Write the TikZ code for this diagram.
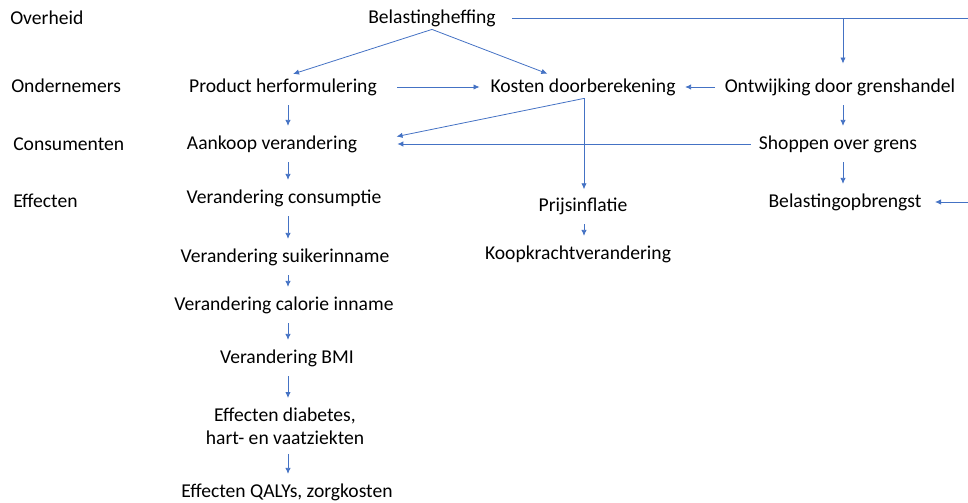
\documentclass[tikz,border=0pt]{standalone}
\usepackage{fontspec}
\setmainfont{Carlito}
\definecolor{lijnblauw}{RGB}{68,114,196}
\usetikzlibrary{arrows.meta}
\begin{document}
\fontsize{14.7}{17.25}\selectfont
\begin{tikzpicture}
			[x=0.75pt,y=-0.75pt,
			lbl/.style={anchor=west,inner sep=0pt},
			item/.style={inner sep=2pt,align=center},
			pijl/.style={draw=lijnblauw,line width=0.6pt,shorten <=5pt,shorten >=5pt},
			>={Latex[length=4.5pt,width=4pt]}]
			\useasboundingbox(0,0)rectangle(968,503);
			% rijen
			\node[lbl,name=overheid]at(10,18){Overheid};
			\node[lbl,name=ondernemers]at(11,86){Ondernemers};
			\node[lbl,name=consumenten]at(13,144){Consumenten};
			\node[lbl,name=effecten]at(13,201){Effecten};
			% knopen
			\node[item,name=heffing]at(432,18){Belastingheffing};
			\node[item,name=herform]at(283,87){Product herformulering};
			\node[item,name=kosten]at(583,87){Kosten doorberekening};
			\node[item,name=ontwijk]at(840,87){Ontwijking door grenshandel};
			\node[item,name=aankoop]at(272,144){Aankoop verandering};
			\node[item,name=shoppen]at(838,144){Shoppen over grens};
			\node[item,name=consumptie]at(284,198){Verandering consumptie};
			\node[item,name=prijs]at(583,206){Prijsinflatie};
			\node[item,name=opbrengst]at(845,202){Belastingopbrengst};
			\node[item,name=suiker]at(285,257){Verandering suikerinname};
			\node[item,name=koop]at(578,254){Koopkrachtverandering};
			\node[item,name=calorie]at(284,305){Verandering calorie inname};
			\node[item,name=bmi]at(287,358){Verandering BMI};
			\node[item,name=diabetes]at(285,426){Effecten diabetes,\\hart- en vaatziekten};
			\node[item,name=qaly]at(287,492){Effecten QALYs, zorgkosten};
			\coordinate(links)at(288,0);
			\coordinate(midden)at(584,0);
			\coordinate(rechts)at(843,0);
			\coordinate(rand)at(968,18);
			\coordinate(rand2)at(968,202);
			% verbindingen
			\draw[pijl,shorten <=10pt,shorten >=0pt](heffing.east)--(rand);
			\draw[->,pijl,shorten <=0pt,shorten >=9pt](heffing.east-|rechts)--(ontwijk.north-|rechts);
			\draw[->,pijl,shorten <=0pt,shorten >=4pt](heffing.south)--(herform.north-|links);
			\draw[->,pijl,shorten <=0pt,shorten >=4pt](heffing.south)--([xshift=-23pt]kosten.north);
			\draw[->,pijl,shorten <=13pt,shorten >=6pt](herform)--(kosten);
			\draw[->,pijl](ontwijk)--(kosten);
			\draw[->,pijl,shorten <=0pt,shorten >=28pt](kosten.south-|midden)--(aankoop.east);
			\draw[->,pijl,shorten <=0pt,shorten >=4pt](kosten.south-|midden)--(prijs.north-|midden);
			\draw[->,pijl,shorten <=4pt,shorten >=28pt](shoppen.west)--(aankoop.east);
			\draw[->,pijl](ontwijk.south-|rechts)--(shoppen.north-|rechts);
			\draw[->,pijl](shoppen.south-|rechts)--(opbrengst.north-|rechts);
			\draw[->,pijl,shorten <=0pt,shorten >=8pt](rand2)--(opbrengst);
			\draw[->,pijl](herform.south-|links)--(aankoop.north-|links);
			\draw[->,pijl](aankoop.south-|links)--(consumptie.north-|links);
			\draw[->,pijl](consumptie.south-|links)--(suiker.north-|links);
			\draw[->,pijl](suiker.south-|links)--(calorie.north-|links);
			\draw[->,pijl](calorie.south-|links)--(bmi.north-|links);
			\draw[->,pijl](bmi.south-|links)--(diabetes.north-|links);
			\draw[->,pijl](diabetes.south-|links)--(qaly.north-|links);
			\draw[->,pijl](prijs.south-|midden)--(koop.north-|midden);
		\end{tikzpicture}
\end{document}
